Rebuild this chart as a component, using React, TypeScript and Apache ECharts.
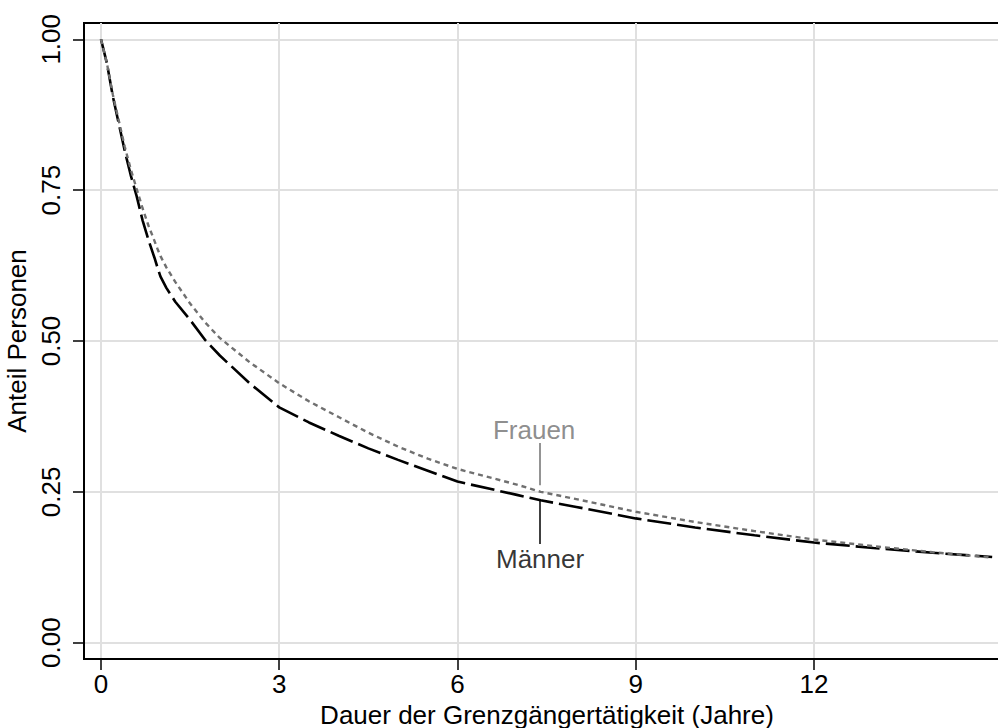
import React, { useEffect, useRef } from "react";
import * as echarts from "echarts";

// Survival curves: share of persons still commuting, by duration (years)
const years = [0, 0.1, 0.2, 0.3, 0.4, 0.5, 0.6, 0.7, 0.8, 0.9, 0.95, 1.0, 1.1, 1.25, 1.5, 1.75, 2.0, 2.5, 3.0, 3.5, 4.0, 4.5, 5.0, 5.5, 6.0, 7.0, 7.4, 8.0, 9.0, 10.0, 11.0, 12.0, 13.0, 14.0, 15.0];
const maenner = [1.0, 0.96, 0.905, 0.86, 0.815, 0.775, 0.74, 0.70, 0.667, 0.638, 0.622, 0.607, 0.588, 0.565, 0.535, 0.502, 0.476, 0.43, 0.39, 0.365, 0.343, 0.322, 0.303, 0.285, 0.267, 0.245, 0.236, 0.225, 0.206, 0.191, 0.178, 0.166, 0.157, 0.149, 0.142];
const frauen = [1.0, 0.96, 0.908, 0.865, 0.822, 0.785, 0.752, 0.72, 0.691, 0.666, 0.653, 0.641, 0.622, 0.598, 0.562, 0.531, 0.505, 0.465, 0.43, 0.40, 0.374, 0.348, 0.325, 0.305, 0.288, 0.262, 0.25, 0.238, 0.217, 0.200, 0.185, 0.171, 0.160, 0.150, 0.141];

const xTicks = [0, 3, 6, 9, 12];
const yTicks = [0, 0.25, 0.5, 0.75, 1];

const xTitle = "Dauer der Grenzgängertätigkeit (Jahre)";
const yTitle = "Anteil Personen";

// annotation: label text, label anchor [x, y], pointer line [x, y1, y2]
const frauenLabel = { text: "Frauen", at: [7.29, 0.3525], line: [7.39, 0.331, 0.261] };
const maennerLabel = { text: "Männer", at: [7.39, 0.139], line: [7.39, 0.2365, 0.1635] };

const FONT = "Liberation Sans, Arial, Helvetica, sans-serif";
const GRAY = "#707070";

export default function App() {
  const ref = useRef<HTMLDivElement>(null);

  useEffect(() => {
    if (!ref.current) return;
    const chart = echarts.init(ref.current, null, { renderer: "svg" });

    const toPairs = (ys: number[]) => years.map((x, i) => [x, ys[i]]);

    const option = {
      animation: false,
      backgroundColor: "#ffffff",
      textStyle: { fontFamily: FONT },
      grid: {
        left: 84,
        right: -12,
        top: 23,
        bottom: 69,
        containLabel: false,
        outerBoundsMode: "none",
        show: true,
        borderColor: "#000",
        borderWidth: 2,
        backgroundColor: "transparent",
      },
      xAxis: {
        type: "value",
        min: -0.286,
        max: 15.3,
        name: xTitle,
        nameLocation: "middle",
        nameGap: 38,
        nameTextStyle: { fontSize: 26, color: "#000", fontFamily: FONT },
        axisLine: { show: true, onZero: false, lineStyle: { color: "#000", width: 2 } },
        axisTick: { show: true, length: 11, lineStyle: { color: "#000", width: 1.5 }, customValues: xTicks },
        axisLabel: {
          show: true,
          fontSize: 26,
          color: "#000",
          margin: 12,
          fontFamily: FONT,
          customValues: xTicks,
          formatter: (v: number) => String(v),
        },
        splitLine: { show: true, lineStyle: { color: "#e0e0e0", width: 2 } },
      },
      yAxis: {
        type: "value",
        min: -0.027,
        max: 1.027,
        name: yTitle,
        nameLocation: "middle",
        nameGap: 49,
        nameRotate: 90,
        nameTextStyle: { fontSize: 26, color: "#000", fontFamily: FONT },
        axisLine: { show: true, onZero: false, lineStyle: { color: "#000", width: 2 } },
        axisTick: { show: true, length: 11, lineStyle: { color: "#000", width: 1.5 }, customValues: yTicks },
        axisLabel: {
          show: true,
          rotate: 90,
          fontSize: 26,
          color: "#000",
          margin: 20,
          fontFamily: FONT,
          customValues: yTicks,
          formatter: (v: number) => v.toFixed(2),
        },
        splitLine: { show: true, lineStyle: { color: "#e0e0e0", width: 2 } },
      },
      series: [
        {
          name: "Männer",
          type: "line",
          data: toPairs(maenner),
          showSymbol: false,
          smooth: false,
          lineStyle: { color: "#000", width: 2.6, type: [24, 6] },
          z: 3,
          markLine: {
            silent: true,
            symbol: "none",
            label: { show: false },
            lineStyle: { color: "#000", width: 1.5, type: "solid" },
            data: [[
              { coord: [maennerLabel.line[0], maennerLabel.line[1]] },
              { coord: [maennerLabel.line[0], maennerLabel.line[2]] },
            ]],
          },
        },
        {
          name: "Frauen",
          type: "line",
          data: toPairs(frauen),
          showSymbol: false,
          smooth: false,
          lineStyle: { color: GRAY, width: 2.4, type: [5, 4] },
          z: 4,
          markLine: {
            silent: true,
            symbol: "none",
            label: { show: false },
            lineStyle: { color: GRAY, width: 1.5, type: "solid" },
            data: [[
              { coord: [frauenLabel.line[0], frauenLabel.line[1]] },
              { coord: [frauenLabel.line[0], frauenLabel.line[2]] },
            ]],
          },
        },
        {
          name: "labels",
          type: "scatter",
          symbolSize: 0,
          silent: true,
          data: [
            { value: frauenLabel.at, label: { formatter: frauenLabel.text, color: GRAY } },
            { value: maennerLabel.at, label: { formatter: maennerLabel.text, color: "#000" } },
          ],
          label: {
            show: true,
            position: "inside",
            fontSize: 26,
            fontFamily: FONT,
          },
          z: 5,
        },
      ],
    };

    chart.setOption(option as any);
    return () => chart.dispose();
  }, []);

  return (
    <div
      ref={ref}
      style={{ position: "fixed", left: 0, top: 0, width: 998, height: 728, background: "#fff" }}
    />
  );
}
